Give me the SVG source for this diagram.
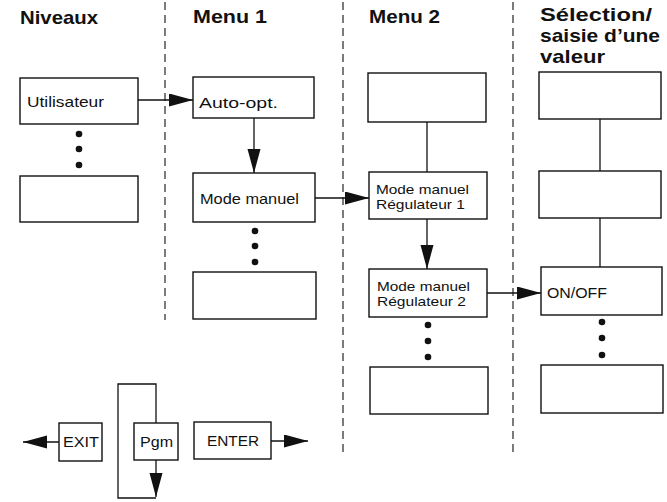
<svg xmlns="http://www.w3.org/2000/svg" width="667" height="502" viewBox="0 0 667 502">
  <style>
    .box { fill: #fff; stroke: #111; stroke-width: 1.4; }
    .line { fill: none; stroke: #111; stroke-width: 1.3; }
    .arrow { fill: none; stroke: #111; stroke-width: 1.3; marker-end: url(#head); }
    .sep { fill: none; stroke: #111; stroke-width: 1.1; stroke-dasharray: 8 5; }
    .head { font-family: "Liberation Sans", Arial, sans-serif; font-weight: bold; font-size: 19px; fill: #111; }
    .lbl { font-family: "Liberation Sans", Arial, sans-serif; font-size: 15px; fill: #111; }
    .lbl2 { font-family: "Liberation Sans", Arial, sans-serif; font-size: 13px; fill: #111; }
    .dot { fill: #111; }
  </style>
  <defs>
    <marker id="head" markerUnits="userSpaceOnUse" markerWidth="26" markerHeight="14" refX="24" refY="6.5" orient="auto">
      <path d="M0,0 L24,6.5 L0,13 Z" fill="#111"/>
    </marker>
  </defs>
  <rect width="667" height="502" fill="#fff"/>

  <!-- column separators -->
  <g id="separators">
    <line class="sep" x1="165" y1="2" x2="165" y2="320"/>
    <line class="sep" x1="343" y1="2" x2="343" y2="457"/>
    <line class="sep" x1="513" y1="2" x2="513" y2="457"/>
  </g>

  <!-- column headings -->
  <g id="headings">
    <text class="head" x="20" y="24" textLength="78" lengthAdjust="spacingAndGlyphs">Niveaux</text>
    <text class="head" x="193" y="23" textLength="74" lengthAdjust="spacingAndGlyphs">Menu 1</text>
    <text class="head" x="369" y="23" textLength="71" lengthAdjust="spacingAndGlyphs">Menu 2</text>
    <text class="head" x="540" y="21" textLength="112" lengthAdjust="spacingAndGlyphs">Sélection/</text>
    <text class="head" x="540" y="42" textLength="120" lengthAdjust="spacingAndGlyphs">saisie d’une</text>
    <text class="head" x="540" y="63" textLength="65" lengthAdjust="spacingAndGlyphs">valeur</text>
  </g>

  <!-- connectors -->
  <g id="connectors">
    <line class="arrow" x1="138" y1="100" x2="193" y2="100"/>
    <line class="arrow" x1="254" y1="118" x2="254" y2="173"/>
    <line class="arrow" x1="315" y1="198" x2="369" y2="198"/>
    <line class="line" x1="427" y1="122" x2="427" y2="172"/>
    <line class="arrow" x1="427" y1="219" x2="427" y2="269"/>
    <line class="arrow" x1="487" y1="293" x2="541" y2="293"/>
    <line class="line" x1="600" y1="119" x2="600" y2="171"/>
    <line class="line" x1="600" y1="218" x2="600" y2="267"/>
    <!-- key legend -->
    <line class="arrow" x1="59" y1="442" x2="23" y2="442"/>
    <line class="arrow" x1="271" y1="441" x2="308" y2="441"/>
    <polyline class="line" points="156,423 156,384 118,384 118,498 156,498"/>
    <line class="arrow" x1="156" y1="460" x2="156" y2="497"/>
  </g>

  <!-- continuation dots -->
  <g id="dots">
    <circle class="dot" cx="79" cy="134" r="3.3"/>
    <circle class="dot" cx="79" cy="149" r="3.3"/>
    <circle class="dot" cx="79" cy="165" r="3.3"/>
    <circle class="dot" cx="255" cy="231" r="3.3"/>
    <circle class="dot" cx="255" cy="246" r="3.3"/>
    <circle class="dot" cx="255" cy="262" r="3.3"/>
    <circle class="dot" cx="428" cy="325" r="3.3"/>
    <circle class="dot" cx="428" cy="341" r="3.3"/>
    <circle class="dot" cx="428" cy="357" r="3.3"/>
    <circle class="dot" cx="602" cy="322" r="3.3"/>
    <circle class="dot" cx="602" cy="338" r="3.3"/>
    <circle class="dot" cx="602" cy="355" r="3.3"/>
  </g>

  <!-- Niveaux -->
  <g id="utilisateur">
    <rect class="box" x="20" y="78" width="118" height="46"/>
    <text class="lbl" x="27" y="107" textLength="77" lengthAdjust="spacingAndGlyphs">Utilisateur</text>
  </g>
  <g id="niveau-n">
    <rect class="box" x="20" y="176" width="118" height="46"/>
  </g>

  <!-- Menu 1 -->
  <g id="auto-opt">
    <rect class="box" x="193" y="77" width="121" height="41"/>
    <text class="lbl" x="199" y="108" textLength="79" lengthAdjust="spacingAndGlyphs">Auto-opt.</text>
  </g>
  <g id="mode-manuel">
    <rect class="box" x="193" y="173" width="122" height="49"/>
    <text class="lbl" x="200" y="204" textLength="99" lengthAdjust="spacingAndGlyphs">Mode manuel</text>
  </g>
  <g id="menu1-n">
    <rect class="box" x="193" y="272" width="123" height="47"/>
  </g>

  <!-- Menu 2 -->
  <g id="menu2-top">
    <rect class="box" x="368" y="73" width="118" height="49"/>
  </g>
  <g id="regulateur-1">
    <rect class="box" x="369" y="172" width="118" height="47"/>
    <text class="lbl2" x="376" y="194" textLength="93" lengthAdjust="spacingAndGlyphs">Mode manuel</text>
    <text class="lbl2" x="376" y="209" textLength="89" lengthAdjust="spacingAndGlyphs">Régulateur 1</text>
  </g>
  <g id="regulateur-2">
    <rect class="box" x="369" y="269" width="118" height="48"/>
    <text class="lbl2" x="377" y="291" textLength="93" lengthAdjust="spacingAndGlyphs">Mode manuel</text>
    <text class="lbl2" x="377" y="306" textLength="89" lengthAdjust="spacingAndGlyphs">Régulateur 2</text>
  </g>
  <g id="menu2-n">
    <rect class="box" x="370" y="367" width="118" height="47"/>
  </g>

  <!-- Sélection / saisie d'une valeur -->
  <g id="valeur-top">
    <rect class="box" x="539" y="72" width="122" height="47"/>
  </g>
  <g id="valeur-2">
    <rect class="box" x="539" y="171" width="122" height="47"/>
  </g>
  <g id="on-off">
    <rect class="box" x="541" y="267" width="121" height="48"/>
    <text class="lbl" x="547" y="298" textLength="60" lengthAdjust="spacingAndGlyphs">ON/OFF</text>
  </g>
  <g id="valeur-n">
    <rect class="box" x="541" y="365" width="122" height="48"/>
  </g>

  <!-- keys -->
  <g id="key-exit">
    <rect class="box" x="59" y="423" width="43" height="38"/>
    <text class="lbl" x="63" y="447" textLength="36" lengthAdjust="spacingAndGlyphs">EXIT</text>
  </g>
  <g id="key-pgm">
    <rect class="box" x="134" y="423" width="44" height="37"/>
    <text class="lbl" x="140" y="447" textLength="33" lengthAdjust="spacingAndGlyphs">Pgm</text>
  </g>
  <g id="key-enter">
    <rect class="box" x="194" y="422" width="77" height="37"/>
    <text class="lbl" x="207" y="446" textLength="52" lengthAdjust="spacingAndGlyphs">ENTER</text>
  </g>
</svg>
